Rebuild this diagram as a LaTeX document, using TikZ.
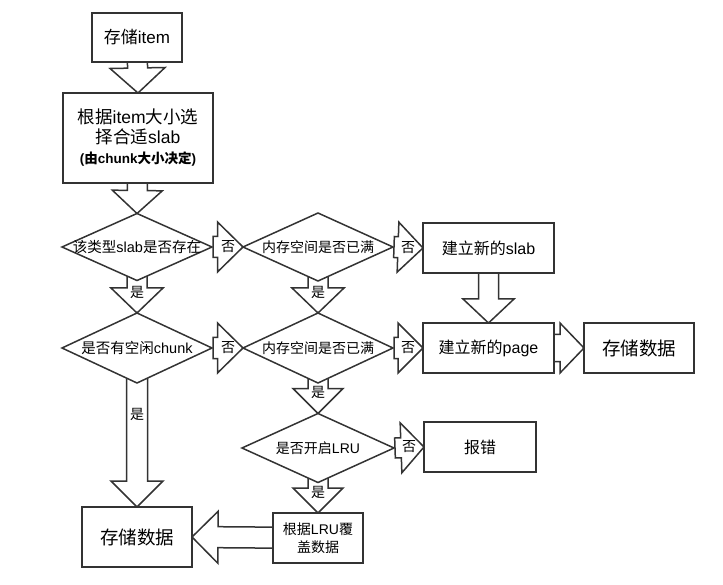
\documentclass[tikz,border=0pt]{standalone}
\usepackage{fontspec}
\setmainfont{Liberation Sans}
\newfontfamily\cjkf{Noto Sans CJK SC}
\newcommand\C[1]{{\cjkf #1}}
\usetikzlibrary{shapes.geometric,calc}
\pgfdeclarelayer{bg}
\pgfsetlayers{bg,main}
\definecolor{lc}{RGB}{51,51,51}
\newcommand\fs[1]{\fontsize{#1}{#1}\selectfont}
% block arrow: start, tip, half shaft width, half head width, head length
\newcommand\barrow[5]{%
  \coordinate (ba-h) at ($(#2)!#5pt!(#1)$);
  \draw[arr] ($(#1)!#3pt!90:(#2)$) -- ($(ba-h)!#3pt!90:(#2)$) -- ($(ba-h)!#4pt!90:(#2)$) -- (#2)
    -- ($(ba-h)!#4pt!-90:(#2)$) -- ($(ba-h)!#3pt!-90:(#2)$) -- ($(#1)!#3pt!-90:(#2)$) -- cycle;
}
\begin{document}
\begin{tikzpicture}[x=1pt,y=-1pt,
  box/.style={draw=lc, line width=1.5pt, fill=white, inner sep=0pt, outer sep=0pt, align=center},
  dia/.style={draw=lc, line width=1.5pt, fill=white, diamond, inner sep=0pt, outer sep=0pt},
  arr/.style={draw=lc, line width=1.5pt, fill=white, line join=miter},
  lab/.style={fill=white, inner sep=0.3pt, font=\fs{14}},
  dtext/.style={inner sep=0pt, font=\fs{14}}]
\useasboundingbox (0,0) rectangle (723,585);

% nodes
\node[box, minimum width=90pt, minimum height=49pt, font=\fs{17}] (b1) at (137,37.5) {\C{存储}item};
\node[box, minimum width=150pt, minimum height=90pt, font=\fontsize{17.5}{19.5}\selectfont] (b2) at (138,138)
  {\C{根据}item\C{大小选}\\\C{择合适}slab\\[1pt]{\fontsize{13.5}{15}\selectfont\bfseries (\C{由}chunk\C{大小决定})}};
\node[dia, minimum width=150pt, minimum height=67pt] (d1) at (137,247) {};
\node[dia, minimum width=150pt, minimum height=68pt] (d2) at (318,247) {};
\node[dia, minimum width=150pt, minimum height=70pt] (d3) at (137,348) {};
\node[dia, minimum width=150pt, minimum height=70pt] (d4) at (318,348) {};
\node[dia, minimum width=152pt, minimum height=69pt] (d5) at (318,448) {};
\node[box, minimum width=131pt, minimum height=50pt, font=\fs{16}] (slab) at (488.5,248) {\C{建立新的}slab};
\node[box, minimum width=131pt, minimum height=50pt, font=\fs{16}] (page) at (488.5,348) {\C{建立新的}page};
\node[box, minimum width=110pt, minimum height=50pt, font=\fs{18.5}] (store1) at (639,348) {\C{存储数据}};
\node[box, minimum width=112pt, minimum height=50pt, font=\fs{16}] (err) at (480,447) {\C{报错}};
\node[box, minimum width=90pt, minimum height=50pt, font=\fontsize{14}{18}\selectfont] (lru) at (318,538) {\C{根据}LRU\C{覆}\\\C{盖数据}};
\node[box, minimum width=110pt, minimum height=60pt, font=\fs{18.5}] (store2) at (137,537) {\C{存储数据}};

\node[dtext, font=\fs{14.5}] (d1t) at (d1) {\C{该类型}slab\C{是否存在}};
\node[dtext] (d2t) at (d2) {\C{内存空间是否已满}};
\node[dtext, font=\fs{14.5}] (d3t) at (d3) {\C{是否有空闲}chunk};
\node[dtext] (d4t) at (d4) {\C{内存空间是否已满}};
\node[dtext] (d5t) at (d5) {\C{是否开启}LRU};

% arrows
\coordinate (s13) at ([xshift=1pt]d1.east);
\coordinate (s24) at ([xshift=1pt]d2.east);
\coordinate (s34) at ([xshift=1pt]d3.east);
\coordinate (s48) at ([xshift=1pt]d4.east);
\coordinate (s5e) at ([xshift=1pt]d5.east);
\begin{pgfonlayer}{bg}
\barrow{b1.center}{b2.north}{10}{27.5}{25}
\barrow{b2.center}{d1.north}{10}{25}{23}
\barrow{s13}{d2.west}{10.5}{25}{25.5}
\barrow{s24}{slab.west}{10.5}{25}{25}
\barrow{d1.center}{d3.north}{10}{26}{25}
\barrow{d2.center}{d4.north}{10}{26}{25}
\barrow{s34}{d4.west}{10.5}{25}{25.5}
\barrow{s48}{page.west}{10.5}{25}{25}
\barrow{slab.center}{page.north}{10}{25.5}{24}
\barrow{page.center}{store1.west}{13.5}{25}{24}
\barrow{d4.center}{d5.north}{10}{25}{25}
\barrow{s5e}{err.west}{10}{25}{23}
\barrow{d5.center}{lru.north}{10}{25}{25}
\barrow{d3.center}{store2.north}{10.5}{26}{26}
\barrow{lru.center}{store2.east}{10.5}{26}{26}
\end{pgfonlayer}

% arrow labels
\node[lab] (n1) at ($(d2.west)+(-15,0)$) {\C{否}};
\node[lab] (n2) at ($(slab.west)+(-15,0)$) {\C{否}};
\node[lab] (n3) at ($(d4.west)+(-15,0)$) {\C{否}};
\node[lab] (n4) at ($(page.west)+(-15,0)$) {\C{否}};
\node[lab] (n5) at ($(err.west)+(-15,0)$) {\C{否}};
\node[lab] (y1) at ($(d3.north)+(0,-21)$) {\C{是}};
\node[lab] (y2) at ($(d4.north)+(0,-21)$) {\C{是}};
\node[lab] (y3) at ($(d5.north)+(0,-21)$) {\C{是}};
\node[lab] (y4) at ($(lru.north)+(0,-21)$) {\C{是}};
\node[lab] (y5) at ($(store2.north)+(0,-93)$) {\C{是}};
\end{tikzpicture}
\end{document}
